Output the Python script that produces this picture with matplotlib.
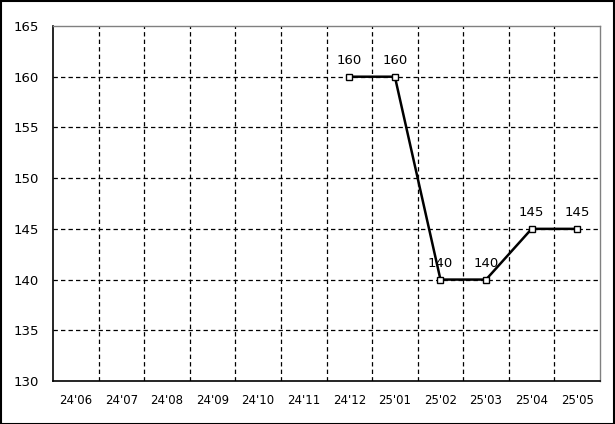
import matplotlib.pyplot as plt
import numpy as np

months = ["24'06", "24'07", "24'08", "24'09", "24'10", "24'11",
          "24'12", "25'01", "25'02", "25'03", "25'04", "25'05"]
values = [np.nan, np.nan, np.nan, np.nan, np.nan, np.nan,
          160, 160, 140, 140, 145, 145]
yticks = [130, 135, 140, 145, 150, 155, 160, 165]

fig = plt.figure(figsize=(6.15, 4.24), dpi=100)
ax = fig.add_axes([0.0862, 0.1014, 0.8894, 0.8373])

x = np.arange(len(months))
ax.plot(x, values, color='black', lw=1.8, marker='s', ms=4.5,
        mfc='white', mec='black', mew=1, zorder=3)
for xi, v in zip(x, values):
    if not np.isnan(v):
        ax.annotate(f'{v:.0f}', (xi, v), xytext=(0, 7), textcoords='offset points',
                    ha='center', va='bottom', fontsize=9.5)

ax.set_xlim(-0.5, len(months) - 0.5)
ax.set_ylim(130, 165)
ax.set_yticks(yticks)
ax.set_xticks(x)
ax.set_xticklabels(months, fontsize=8.5)
ax.tick_params(axis='y', labelsize=9.5, length=0, pad=10)
ax.tick_params(axis='x', length=0, pad=9)

# dashed grid: horizontal at y ticks, vertical at category boundaries
for yv in yticks[1:-1]:
    ax.axhline(yv, color='black', lw=0.9, ls=(0, (3.5, 2.5)), zorder=1)
for b in np.arange(0.5, len(months) - 1, 1.0):
    ax.axvline(b, color='black', lw=0.9, ls=(0, (3.5, 2.5)), zorder=1)

ax.spines['left'].set_color('black')
ax.spines['bottom'].set_color('black')
ax.spines['left'].set_linewidth(1.2)
ax.spines['bottom'].set_linewidth(1.2)
ax.spines['top'].set_color('#808080')
ax.spines['right'].set_color('#808080')
ax.spines['top'].set_linewidth(1.0)
ax.spines['right'].set_linewidth(1.0)

fig.patches.append(plt.Rectangle((0.001, 0.001), 0.997, 0.996, transform=fig.transFigure,
                                 fill=False, edgecolor='black', lw=1.5))

fig.savefig('out.png', dpi=100)
